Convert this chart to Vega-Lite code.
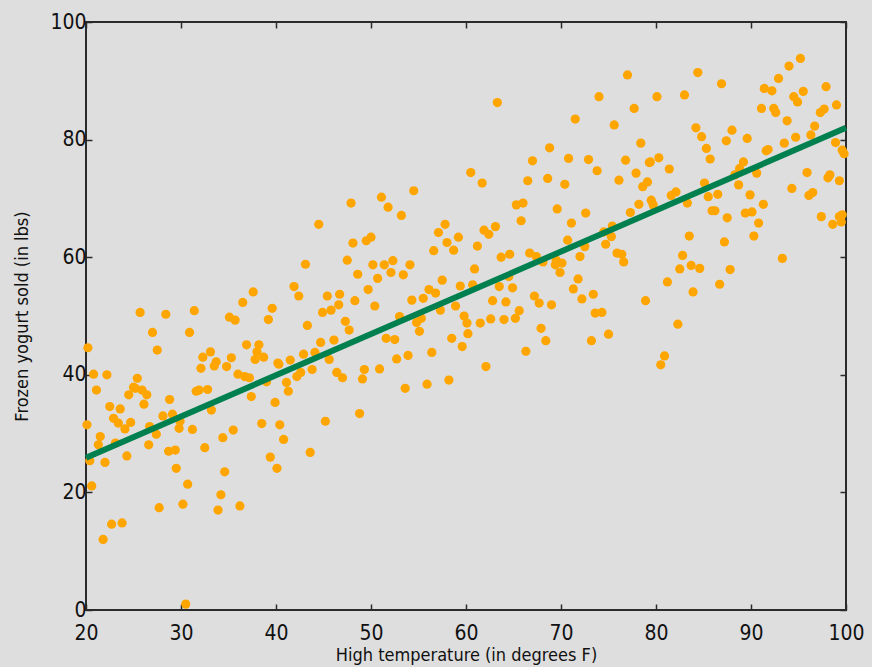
{
  "$schema": "https://vega.github.io/schema/vega-lite/v6.json",
  "autosize": "none",
  "width": 760,
  "height": 588,
  "padding": {"left": 86, "top": 22, "right": 26, "bottom": 57},
  "background": "#dedede",
  "config": {
    "font": "DejaVu Sans Condensed, DejaVu Sans",
    "view": {"fill": "#dedede", "stroke": "#2b2b2b", "strokeWidth": 2},
    "axis": {
      "domain": false,
      "grid": false,
      "tickColor": "#2b2b2b",
      "tickSize": -6,
      "tickWidth": 1.5,
      "labelFont": "DejaVu Sans Condensed, DejaVu Sans",
      "labelFontSize": 21,
      "labelColor": "#111",
      "labelFlush": false,
      "titleFont": "DejaVu Sans Condensed, DejaVu Sans",
      "titleFontSize": 18,
      "titleFontWeight": "normal",
      "titleColor": "#111"
    }
  },
  "datasets": {
    "sales": [
      {"temp": 37.6, "sold": 54.1}, {"temp": 36.5, "sold": 52.3}, {"temp": 39.6, "sold": 51.3}, {"temp": 25.7, "sold": 50.6},
      {"temp": 28.4, "sold": 50.3}, {"temp": 31.4, "sold": 50.9}, {"temp": 35.1, "sold": 49.8}, {"temp": 35.7, "sold": 49.3},
      {"temp": 39.2, "sold": 49.4}, {"temp": 27.0, "sold": 47.2}, {"temp": 30.9, "sold": 47.2}, {"temp": 20.2, "sold": 44.6},
      {"temp": 27.5, "sold": 44.2}, {"temp": 36.9, "sold": 45.1}, {"temp": 38.2, "sold": 45.1}, {"temp": 38.0, "sold": 43.9},
      {"temp": 37.8, "sold": 42.6}, {"temp": 38.7, "sold": 43.0}, {"temp": 33.1, "sold": 43.9}, {"temp": 32.3, "sold": 43.0},
      {"temp": 33.7, "sold": 42.2}, {"temp": 33.5, "sold": 41.5}, {"temp": 32.1, "sold": 41.1}, {"temp": 34.8, "sold": 41.4},
      {"temp": 35.3, "sold": 42.9}, {"temp": 40.2, "sold": 42.0}, {"temp": 20.8, "sold": 40.1}, {"temp": 22.2, "sold": 40.0},
      {"temp": 25.4, "sold": 39.4}, {"temp": 21.1, "sold": 37.4}, {"temp": 25.0, "sold": 37.9}, {"temp": 25.9, "sold": 37.4},
      {"temp": 26.4, "sold": 36.6}, {"temp": 24.5, "sold": 36.6}, {"temp": 25.2, "sold": 37.7}, {"temp": 31.6, "sold": 37.2},
      {"temp": 32.8, "sold": 37.5}, {"temp": 31.9, "sold": 37.4}, {"temp": 36.0, "sold": 40.1}, {"temp": 36.7, "sold": 39.7},
      {"temp": 37.2, "sold": 39.5}, {"temp": 39.0, "sold": 38.8}, {"temp": 37.4, "sold": 36.3}, {"temp": 39.9, "sold": 35.3},
      {"temp": 22.5, "sold": 34.6}, {"temp": 23.6, "sold": 34.2}, {"temp": 26.1, "sold": 35.0}, {"temp": 28.8, "sold": 35.8},
      {"temp": 33.2, "sold": 34.0}, {"temp": 22.9, "sold": 32.6}, {"temp": 23.4, "sold": 31.8}, {"temp": 24.1, "sold": 30.8},
      {"temp": 24.7, "sold": 31.9}, {"temp": 28.1, "sold": 33.0}, {"temp": 29.1, "sold": 33.3}, {"temp": 29.9, "sold": 32.1},
      {"temp": 20.1, "sold": 31.5}, {"temp": 26.7, "sold": 31.2}, {"temp": 27.4, "sold": 29.9}, {"temp": 29.8, "sold": 30.9},
      {"temp": 31.2, "sold": 30.7}, {"temp": 35.5, "sold": 30.6}, {"temp": 38.5, "sold": 31.7}, {"temp": 40.4, "sold": 31.5},
      {"temp": 21.5, "sold": 29.5}, {"temp": 34.4, "sold": 29.3}, {"temp": 21.3, "sold": 28.1}, {"temp": 23.1, "sold": 28.4},
      {"temp": 20.4, "sold": 25.4}, {"temp": 22.0, "sold": 25.1}, {"temp": 24.3, "sold": 26.2}, {"temp": 26.6, "sold": 28.1},
      {"temp": 28.7, "sold": 27.0}, {"temp": 29.4, "sold": 27.2}, {"temp": 32.5, "sold": 27.6}, {"temp": 39.4, "sold": 26.0},
      {"temp": 40.1, "sold": 24.1}, {"temp": 29.5, "sold": 24.1}, {"temp": 34.6, "sold": 23.5}, {"temp": 30.7, "sold": 21.4},
      {"temp": 20.6, "sold": 21.1}, {"temp": 34.2, "sold": 19.6}, {"temp": 30.2, "sold": 18.0}, {"temp": 27.7, "sold": 17.4},
      {"temp": 33.9, "sold": 17.0}, {"temp": 36.2, "sold": 17.7}, {"temp": 22.7, "sold": 14.6}, {"temp": 23.8, "sold": 14.8},
      {"temp": 21.8, "sold": 12.0}, {"temp": 30.5, "sold": 1.0}, {"temp": 54.5, "sold": 71.3}, {"temp": 51.1, "sold": 70.2},
      {"temp": 51.8, "sold": 68.5}, {"temp": 47.9, "sold": 69.2}, {"temp": 53.2, "sold": 67.1}, {"temp": 44.5, "sold": 65.6},
      {"temp": 57.8, "sold": 65.6}, {"temp": 57.1, "sold": 64.2}, {"temp": 58.0, "sold": 62.5}, {"temp": 59.2, "sold": 63.4},
      {"temp": 58.7, "sold": 61.2}, {"temp": 56.6, "sold": 61.1}, {"temp": 48.1, "sold": 62.4}, {"temp": 49.5, "sold": 62.8},
      {"temp": 50.0, "sold": 63.4}, {"temp": 43.1, "sold": 58.8}, {"temp": 47.5, "sold": 59.5}, {"temp": 48.6, "sold": 57.1},
      {"temp": 50.2, "sold": 58.7}, {"temp": 51.4, "sold": 58.7}, {"temp": 52.3, "sold": 59.4}, {"temp": 52.1, "sold": 57.4},
      {"temp": 50.7, "sold": 56.4}, {"temp": 53.4, "sold": 57.0}, {"temp": 54.1, "sold": 58.7}, {"temp": 57.5, "sold": 56.1},
      {"temp": 59.4, "sold": 55.1}, {"temp": 41.9, "sold": 55.0}, {"temp": 42.4, "sold": 53.4}, {"temp": 45.4, "sold": 53.4},
      {"temp": 46.7, "sold": 53.7}, {"temp": 49.7, "sold": 54.5}, {"temp": 56.1, "sold": 54.5}, {"temp": 56.8, "sold": 53.9},
      {"temp": 55.5, "sold": 53.0}, {"temp": 54.3, "sold": 52.7}, {"temp": 48.3, "sold": 52.6}, {"temp": 46.6, "sold": 51.9},
      {"temp": 45.8, "sold": 51.0}, {"temp": 44.9, "sold": 50.6}, {"temp": 50.4, "sold": 51.7}, {"temp": 58.9, "sold": 51.7},
      {"temp": 57.3, "sold": 51.0}, {"temp": 59.8, "sold": 50.0}, {"temp": 60.1, "sold": 48.8}, {"temp": 60.2, "sold": 47.0},
      {"temp": 53.0, "sold": 49.9}, {"temp": 54.8, "sold": 48.9}, {"temp": 55.3, "sold": 49.6}, {"temp": 55.1, "sold": 47.4},
      {"temp": 43.3, "sold": 48.4}, {"temp": 47.3, "sold": 49.1}, {"temp": 47.7, "sold": 47.6}, {"temp": 44.7, "sold": 45.5},
      {"temp": 46.1, "sold": 45.9}, {"temp": 51.6, "sold": 46.2}, {"temp": 52.5, "sold": 46.0}, {"temp": 58.5, "sold": 46.2},
      {"temp": 59.6, "sold": 44.8}, {"temp": 42.9, "sold": 43.5}, {"temp": 44.1, "sold": 43.8}, {"temp": 56.4, "sold": 43.8},
      {"temp": 53.9, "sold": 43.3}, {"temp": 52.7, "sold": 42.7}, {"temp": 41.5, "sold": 42.5}, {"temp": 40.3, "sold": 41.8},
      {"temp": 45.6, "sold": 42.6}, {"temp": 41.1, "sold": 38.7}, {"temp": 41.3, "sold": 37.2}, {"temp": 42.2, "sold": 39.7},
      {"temp": 42.6, "sold": 40.4}, {"temp": 43.8, "sold": 40.9}, {"temp": 46.4, "sold": 40.4}, {"temp": 47.0, "sold": 39.5},
      {"temp": 49.3, "sold": 40.9}, {"temp": 49.1, "sold": 39.3}, {"temp": 50.9, "sold": 41.0}, {"temp": 53.6, "sold": 37.7},
      {"temp": 55.9, "sold": 38.4}, {"temp": 58.2, "sold": 39.1}, {"temp": 48.8, "sold": 33.4}, {"temp": 45.2, "sold": 32.1},
      {"temp": 40.8, "sold": 29.0}, {"temp": 43.6, "sold": 26.8}, {"temp": 63.3, "sold": 86.3}, {"temp": 74.0, "sold": 87.3},
      {"temp": 77.7, "sold": 85.3}, {"temp": 80.1, "sold": 87.3}, {"temp": 71.5, "sold": 83.5}, {"temp": 75.6, "sold": 82.5},
      {"temp": 68.8, "sold": 78.6}, {"temp": 78.4, "sold": 79.4}, {"temp": 67.0, "sold": 76.4}, {"temp": 70.8, "sold": 76.8},
      {"temp": 72.9, "sold": 76.6}, {"temp": 73.8, "sold": 74.7}, {"temp": 76.8, "sold": 76.5}, {"temp": 79.3, "sold": 76.1},
      {"temp": 80.3, "sold": 76.9}, {"temp": 60.5, "sold": 74.4}, {"temp": 61.7, "sold": 72.6}, {"temp": 66.5, "sold": 73.0},
      {"temp": 68.6, "sold": 73.4}, {"temp": 70.4, "sold": 72.4}, {"temp": 76.1, "sold": 73.1}, {"temp": 77.9, "sold": 74.3},
      {"temp": 79.1, "sold": 72.8}, {"temp": 78.6, "sold": 72.0}, {"temp": 65.3, "sold": 68.9}, {"temp": 66.0, "sold": 69.2},
      {"temp": 69.6, "sold": 68.2}, {"temp": 72.6, "sold": 67.5}, {"temp": 79.5, "sold": 69.7}, {"temp": 79.7, "sold": 68.9},
      {"temp": 78.2, "sold": 69.0}, {"temp": 77.3, "sold": 67.6}, {"temp": 65.8, "sold": 66.2}, {"temp": 71.1, "sold": 65.8},
      {"temp": 61.9, "sold": 64.6}, {"temp": 62.4, "sold": 63.9}, {"temp": 63.1, "sold": 65.2}, {"temp": 61.2, "sold": 61.9},
      {"temp": 70.7, "sold": 62.9}, {"temp": 74.5, "sold": 64.3}, {"temp": 75.4, "sold": 65.3}, {"temp": 75.3, "sold": 63.5},
      {"temp": 74.7, "sold": 62.2}, {"temp": 63.7, "sold": 60.0}, {"temp": 64.6, "sold": 60.5}, {"temp": 66.7, "sold": 60.7},
      {"temp": 67.4, "sold": 60.1}, {"temp": 68.1, "sold": 59.2}, {"temp": 69.4, "sold": 58.7}, {"temp": 70.1, "sold": 59.0},
      {"temp": 69.5, "sold": 59.5}, {"temp": 72.0, "sold": 60.1}, {"temp": 72.5, "sold": 61.8}, {"temp": 75.9, "sold": 60.7},
      {"temp": 76.4, "sold": 60.5}, {"temp": 76.6, "sold": 59.2}, {"temp": 60.9, "sold": 58.0}, {"temp": 60.7, "sold": 55.3},
      {"temp": 63.5, "sold": 55.0}, {"temp": 64.9, "sold": 54.8}, {"temp": 64.5, "sold": 56.7}, {"temp": 69.9, "sold": 57.4},
      {"temp": 71.8, "sold": 56.3}, {"temp": 71.3, "sold": 54.6}, {"temp": 72.2, "sold": 52.9}, {"temp": 73.4, "sold": 53.7},
      {"temp": 62.8, "sold": 52.6}, {"temp": 64.2, "sold": 52.4}, {"temp": 65.6, "sold": 50.9}, {"temp": 65.2, "sold": 49.6},
      {"temp": 64.0, "sold": 49.4}, {"temp": 62.6, "sold": 49.5}, {"temp": 61.5, "sold": 48.8}, {"temp": 67.2, "sold": 53.4},
      {"temp": 67.7, "sold": 52.2}, {"temp": 69.0, "sold": 51.9}, {"temp": 78.9, "sold": 52.6}, {"temp": 73.6, "sold": 50.5},
      {"temp": 74.3, "sold": 50.6}, {"temp": 67.9, "sold": 47.9}, {"temp": 68.4, "sold": 45.8}, {"temp": 73.2, "sold": 45.8},
      {"temp": 75.0, "sold": 46.9}, {"temp": 66.3, "sold": 44.0}, {"temp": 62.1, "sold": 41.4}, {"temp": 80.5, "sold": 41.7},
      {"temp": 95.2, "sold": 93.8}, {"temp": 94.0, "sold": 92.5}, {"temp": 92.9, "sold": 90.4}, {"temp": 84.4, "sold": 91.4},
      {"temp": 86.9, "sold": 89.5}, {"temp": 83.0, "sold": 87.6}, {"temp": 91.4, "sold": 88.7}, {"temp": 92.2, "sold": 88.3},
      {"temp": 97.9, "sold": 89.0}, {"temp": 94.5, "sold": 87.3}, {"temp": 95.5, "sold": 88.2}, {"temp": 94.9, "sold": 86.4},
      {"temp": 91.1, "sold": 85.3}, {"temp": 92.4, "sold": 85.3}, {"temp": 92.6, "sold": 84.6}, {"temp": 99.0, "sold": 85.9},
      {"temp": 97.3, "sold": 84.6}, {"temp": 97.7, "sold": 85.2}, {"temp": 93.8, "sold": 83.2}, {"temp": 84.2, "sold": 82.0},
      {"temp": 88.0, "sold": 81.6}, {"temp": 96.7, "sold": 82.3}, {"temp": 84.8, "sold": 80.5}, {"temp": 87.4, "sold": 79.8},
      {"temp": 89.6, "sold": 80.2}, {"temp": 94.7, "sold": 80.4}, {"temp": 96.3, "sold": 80.8}, {"temp": 91.8, "sold": 78.3},
      {"temp": 91.6, "sold": 78.1}, {"temp": 93.5, "sold": 79.4}, {"temp": 98.9, "sold": 79.5}, {"temp": 99.6, "sold": 78.2},
      {"temp": 99.8, "sold": 77.6}, {"temp": 85.3, "sold": 78.5}, {"temp": 85.7, "sold": 76.7}, {"temp": 81.4, "sold": 75.0},
      {"temp": 79.4, "sold": 76.2}, {"temp": 89.2, "sold": 76.2}, {"temp": 88.8, "sold": 75.1}, {"temp": 88.3, "sold": 74.0},
      {"temp": 90.6, "sold": 74.3}, {"temp": 95.9, "sold": 74.4}, {"temp": 98.3, "sold": 74.0}, {"temp": 98.1, "sold": 73.5},
      {"temp": 99.3, "sold": 73.0}, {"temp": 85.1, "sold": 72.6}, {"temp": 88.7, "sold": 72.3}, {"temp": 94.3, "sold": 71.7},
      {"temp": 82.1, "sold": 71.1}, {"temp": 81.6, "sold": 70.5}, {"temp": 85.5, "sold": 70.3}, {"temp": 86.5, "sold": 70.7},
      {"temp": 89.9, "sold": 70.6}, {"temp": 96.1, "sold": 70.5}, {"temp": 96.5, "sold": 71.0}, {"temp": 83.3, "sold": 69.2},
      {"temp": 91.3, "sold": 69.0}, {"temp": 85.9, "sold": 67.9}, {"temp": 86.2, "sold": 67.9}, {"temp": 89.4, "sold": 67.5},
      {"temp": 90.1, "sold": 67.7}, {"temp": 87.5, "sold": 66.7}, {"temp": 97.4, "sold": 66.9}, {"temp": 99.3, "sold": 66.9},
      {"temp": 99.6, "sold": 67.2}, {"temp": 90.8, "sold": 65.8}, {"temp": 98.6, "sold": 65.6}, {"temp": 99.5, "sold": 66.0},
      {"temp": 83.5, "sold": 63.6}, {"temp": 87.2, "sold": 62.6}, {"temp": 90.3, "sold": 63.6}, {"temp": 82.8, "sold": 60.3},
      {"temp": 82.5, "sold": 58.0}, {"temp": 83.7, "sold": 58.6}, {"temp": 84.6, "sold": 58.1}, {"temp": 87.8, "sold": 57.9},
      {"temp": 93.3, "sold": 59.8}, {"temp": 81.2, "sold": 55.8}, {"temp": 83.9, "sold": 54.1}, {"temp": 86.7, "sold": 55.4},
      {"temp": 82.3, "sold": 48.6}, {"temp": 80.9, "sold": 43.2}, {"temp": 77.0, "sold": 91.0}
    ],
    "fit": [
      {"temp": 20, "sold": 25.9},
      {"temp": 100, "sold": 82.0}
    ]
  },
  "layer": [
    {
      "data": {"name": "sales"},
      "mark": {"type": "circle", "size": 85, "color": "#ffa500", "opacity": 1},
      "encoding": {
        "x": {
          "field": "temp", "type": "quantitative",
          "scale": {"domain": [20, 100], "nice": false, "zero": false},
          "axis": {"orient": "bottom", "values": [20, 30, 40, 50, 60, 70, 80, 90, 100], "labelPadding": 18, "title": "High temperature (in degrees F)", "titlePadding": 3}
        },
        "y": {
          "field": "sold", "type": "quantitative",
          "scale": {"domain": [0, 100], "nice": false, "zero": true},
          "axis": {"orient": "left", "values": [0, 20, 40, 60, 80, 100], "labelPadding": 6, "title": "Frozen yogurt sold (in lbs)", "titlePadding": 18}
        }
      }
    },
    {
      "data": {"name": "fit"},
      "mark": {"type": "line", "color": "#00804f", "strokeWidth": 6},
      "encoding": {
        "x": {
          "field": "temp", "type": "quantitative",
          "axis": {"orient": "top", "values": [20, 30, 40, 50, 60, 70, 80, 90, 100], "labels": false, "title": null}
        },
        "y": {
          "field": "sold", "type": "quantitative",
          "axis": {"orient": "right", "values": [0, 20, 40, 60, 80, 100], "labels": false, "title": null}
        }
      }
    }
  ],
  "resolve": {"axis": {"x": "independent", "y": "independent"}}
}
